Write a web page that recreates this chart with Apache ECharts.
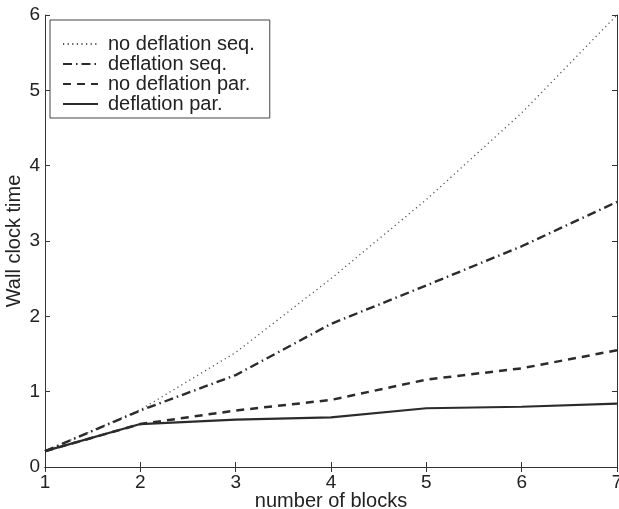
<!DOCTYPE html>
<html><head><meta charset="utf-8">
<script src="https://cdn.jsdelivr.net/npm/echarts@6/dist/echarts.min.js"></script>
<style>html,body{margin:0;padding:0;background:#fff}#c{width:619px;height:509px}</style>
</head><body><div id="c"></div>
<script>
const blocks = [1, 2, 3, 4, 5, 6, 7];
const noDeflSeq = [0.21, 0.76, 1.52, 2.50, 3.55, 4.70, 6.00];
const deflSeq   = [0.21, 0.75, 1.22, 1.90, 2.41, 2.93, 3.52];
const noDeflPar = [0.21, 0.57, 0.75, 0.89, 1.16, 1.31, 1.55];
const deflPar   = [0.21, 0.57, 0.63, 0.66, 0.78, 0.80, 0.84];
const seriesNames = ['no deflation seq.', 'deflation seq.', 'no deflation par.', 'deflation par.'];

const font = 'Liberation Sans, Arial, Helvetica, sans-serif';
const ink = '#2b2b2b';
const pair = (ys) => blocks.map((x, i) => [x, ys[i]]);

const styles = [
  {color: '#555', width: 1.3, type: [1.2, 3.4]},
  {color: ink, width: 2.4, type: [9, 4, 1.5, 4]},
  {color: ink, width: 2.5, type: [8, 6]},
  {color: ink, width: 2.2, type: 'solid'}
];
const datasets = [noDeflSeq, deflSeq, noDeflPar, deflPar];

const chart = echarts.init(document.getElementById('c'), null, {renderer: 'canvas'});
const axisLine = {show: true, lineStyle: {color: '#333', width: 1}};
const tick = {show: true, inside: true, length: 5, lineStyle: {color: '#333'}};
chart.setOption({
  animation: false,
  backgroundColor: '#fff',
  grid: {left: 45, right: 2, top: 15, bottom: 42, containLabel: false, outerBoundsMode: 'none'},
  legend: {
    show: true,
    left: 50, top: 20,
    orient: 'vertical',
    itemWidth: 35, itemHeight: 14, itemGap: 0,
    padding: [14, 15, 4, 12],
    borderColor: '#444', borderWidth: 1,
    backgroundColor: '#fff',
    itemStyle: {opacity: 0},
    textStyle: {fontFamily: font, fontSize: 20, color: '#222', lineHeight: 20, padding: [0, 0, 0, 5]},
    data: seriesNames
  },
  xAxis: [{
    type: 'value', min: 1, max: 7, interval: 1,
    name: 'number of blocks', nameLocation: 'middle', nameGap: 24, nameMoveOverlap: false,
    nameTextStyle: {fontFamily: font, fontSize: 20, color: '#222'},
    axisLine: axisLine, axisTick: tick,
    axisLabel: {fontFamily: font, fontSize: 19, color: '#222', margin: 6},
    splitLine: {show: false}
  }, {
    type: 'value', min: 1, max: 7, interval: 1, position: 'top',
    axisLine: axisLine, axisTick: tick,
    axisLabel: {show: false}, splitLine: {show: false}
  }],
  yAxis: [{
    type: 'value', min: 0, max: 6, interval: 1,
    name: 'Wall clock time', nameLocation: 'middle', nameGap: 21, nameMoveOverlap: false,
    nameTextStyle: {fontFamily: font, fontSize: 20, color: '#222'},
    axisLine: axisLine, axisTick: tick,
    axisLabel: {fontFamily: font, fontSize: 19, color: '#222', margin: 5},
    splitLine: {show: false}
  }, {
    type: 'value', min: 0, max: 6, interval: 1, position: 'right',
    axisLine: axisLine, axisTick: tick,
    axisLabel: {show: false}, splitLine: {show: false}
  }],
  series: datasets.map((d, i) => ({
    name: seriesNames[i],
    type: 'line',
    data: pair(d),
    symbol: 'none',
    showSymbol: false,
    smooth: false,
    clip: true,
    lineStyle: {color: styles[i].color, width: styles[i].width, type: styles[i].type, cap: 'butt'},
    itemStyle: {color: styles[i].color},
    z: 2 + i
  }))
});
</script></body></html>
